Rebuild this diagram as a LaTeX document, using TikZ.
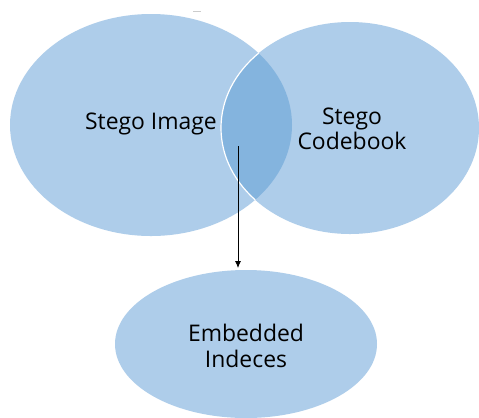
\documentclass[tikz,border=0pt]{standalone}
\usepackage{fontspec}
\setmainfont{Open Sans}
\usetikzlibrary{arrows.meta}
\begin{document}
\begin{tikzpicture}[x=1bp,y=-1bp,
  blob/.style={fill=vennfill,draw=none},
  lbl/.style={font=\fontsize{23}{25.5}\selectfont,align=center,text=black,inner sep=0pt}]
\definecolor{vennfill}{RGB}{174,205,234}
\definecolor{venndark}{RGB}{132,180,222}
\useasboundingbox (0,0) rectangle (479,417);
\fill[white] (0,0) rectangle (479,417);
% the three sets
\fill[blob] (151,125) ellipse [x radius=141, y radius=111];
\fill[blob] (350,128) ellipse [x radius=129, y radius=106];
\fill[blob] (246,344) ellipse [x radius=131, y radius=74];
% overlap of the two upper sets
\begin{scope}
  \clip (151,125) ellipse [x radius=141, y radius=111];
  \fill[venndark] (350,128) ellipse [x radius=129, y radius=106];
  \draw[white,line width=1.2] (350,128) ellipse [x radius=129, y radius=106];
\end{scope}
\draw[gray!40,line width=0.8] (193,11) -- (201,11);
% labels
\node[lbl] (img) at (151,124) {Stego Image};
\node[lbl] (cb) at (352,129) {Stego\\Codebook};
\node[lbl] (emb) at (246,346) {Embedded\\Indeces};
\coordinate (src) at (238,146);
\coordinate (dst) at (238,268);
\draw[-{Latex[length=7,width=6]},line width=0.8] (src) -- (dst);
\end{tikzpicture}
\end{document}
